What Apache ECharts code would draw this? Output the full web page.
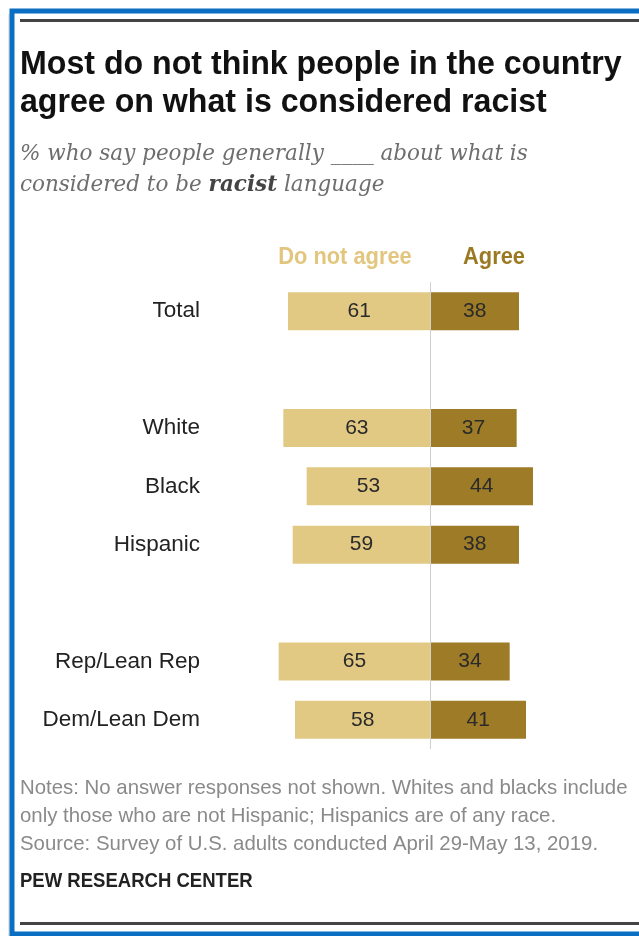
<!DOCTYPE html>
<html>
<head>
<meta charset="utf-8">
<script src="https://cdn.jsdelivr.net/npm/echarts@6/dist/echarts.min.js"></script>
<style>
html,body{margin:0;padding:0;background:#fff;}
#chart{width:639px;height:936px;}
</style>
</head>
<body>
<div id="chart"></div>
<script>
// ---- data ----
const categories = ['Total', '', 'White', 'Black', 'Hispanic', '', 'Rep/Lean Rep', 'Dem/Lean Dem'];
const doNotAgree = [61, null, 63, 53, 59, null, 65, 58];
const agree = [38, null, 37, 44, 38, null, 34, 41];
const seriesNames = ['Do not agree', 'Agree'];
const titleLines = ['Most do not think people in the country', 'agree on what is considered racist'];
const noteLines = [
  'Notes: No answer responses not shown. Whites and blacks include',
  'only those who are not Hispanic; Hispanics are of any race.',
  'Source: Survey of U.S. adults conducted April 29-May 13, 2019.'
];
const sourceLabel = 'PEW RESEARCH CENTER';

const colLight = '#e2c983';
const colDark = '#9d7b27';
const condensedBold = 'bold 34px "Liberation Sans", Arial, sans-serif';

const chart = echarts.init(document.getElementById('chart'), null, {renderer: 'canvas'});

const option = {
  backgroundColor: '#fff',
  animation: false,
  grid: {left: 267, right: 92, top: 282, bottom: 187, containLabel: false},
  xAxis: {type: 'value', min: -70, max: 50, show: false},
  yAxis: {
    type: 'category', inverse: true, data: categories,
    axisLine: {show: false}, axisTick: {show: false}, splitLine: {show: false},
    axisLabel: {
      margin: 67, color: '#222', fontSize: 22.5,
      fontFamily: '"Liberation Sans", Arial, sans-serif', align: 'right'
    }
  },
  series: [
    {
      name: seriesNames[0], type: 'bar', stack: 's', barWidth: 38,
      data: doNotAgree.map(v => v == null ? null : -v),
      itemStyle: {color: colLight},
      label: {
        show: true, position: 'inside', color: '#2a2a2a', fontSize: 21,
        fontFamily: '"Liberation Sans", Arial, sans-serif',
        formatter: p => Math.abs(p.value)
      },
      markLine: {
        silent: true, symbol: 'none', label: {show: false},
        lineStyle: {color: '#d0d0d0', width: 1, type: 'solid'},
        data: [{xAxis: 0}]
      }
    },
    {
      name: seriesNames[1], type: 'bar', stack: 's', barWidth: 38,
      data: agree,
      itemStyle: {color: colDark},
      label: {
        show: true, position: 'inside', color: '#2a2a2a', fontSize: 21,
        fontFamily: '"Liberation Sans", Arial, sans-serif'
      }
    }
  ],
  graphic: [
    // outer blue frame
    {type: 'rect', shape: {x: 12, y: 11, width: 640, height: 923}, style: {fill: 'none', stroke: '#0a6fc2', lineWidth: 5}, z: 10},
    {type: 'rect', shape: {x: 8, y: 14, width: 2, height: 922}, style: {fill: '#e6e6e6'}, z: 9},
    // top and bottom rules
    {type: 'rect', shape: {x: 20, y: 19, width: 640, height: 3}, style: {fill: '#444'}},
    {type: 'rect', shape: {x: 20, y: 922, width: 640, height: 3}, style: {fill: '#444'}},
    // title
    {type: 'text', x: 20, y: 65, scaleX: 0.945, style: {text: titleLines[0], font: condensedBold, fill: '#111', verticalAlign: 'middle'}},
    {type: 'text', x: 20, y: 103, scaleX: 0.945, style: {text: titleLines[1], font: condensedBold, fill: '#111', verticalAlign: 'middle'}},
    // subtitle
    {type: 'text', left: 20, top: 139, style: {
      text: '% who say people generally ____ about what is\nconsidered to be {b|racist} language',
      font: 'italic 21.5px "DejaVu Serif", serif', fill: '#6e6e6e', lineHeight: 31,
      rich: {b: {font: 'italic bold 21.5px "DejaVu Serif", serif', fill: '#444', lineHeight: 31}}
    }},
    // legend headers
    {type: 'text', x: 345, y: 258, scaleX: 0.95, style: {text: seriesNames[0], font: 'bold 23px "Liberation Sans", Arial, sans-serif', fill: '#e2c67e', align: 'center', verticalAlign: 'middle'}},
    {type: 'text', x: 494, y: 258, scaleX: 0.95, style: {text: seriesNames[1], font: 'bold 23px "Liberation Sans", Arial, sans-serif', fill: '#9a7922', align: 'center', verticalAlign: 'middle'}},
    // notes
    {type: 'text', left: 20, top: 774, style: {text: noteLines.join('\n'), font: '20.4px "Liberation Sans", sans-serif', fill: '#8a8a8a', lineHeight: 28}},
    {type: 'text', x: 20, y: 882, scaleX: 0.95, style: {text: sourceLabel, font: 'bold 19.5px "Liberation Sans", Arial, sans-serif', fill: '#222', verticalAlign: 'middle'}}
  ]
};
chart.setOption(option);
</script>
</body>
</html>
